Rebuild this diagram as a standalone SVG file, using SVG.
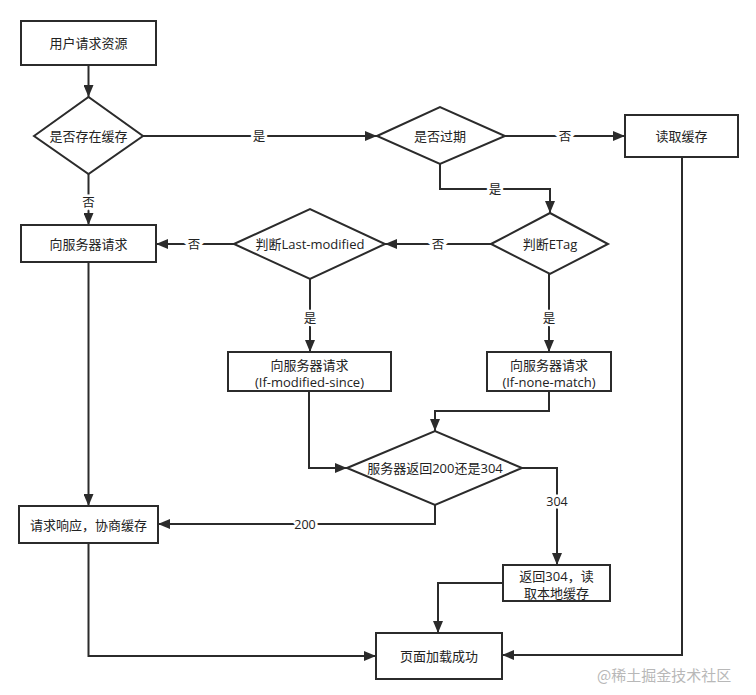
<svg xmlns="http://www.w3.org/2000/svg" width="756" height="695" viewBox="0 0 756 695">
<defs>
<style>
.n{fill:#fff;stroke:#2b2b2b;stroke-width:2}
.t{font-family:"Open Sans","Noto Sans CJK SC",sans-serif;font-size:13px;fill:#222;text-anchor:middle;dominant-baseline:central}
.c{fill:none;stroke:#2b2b2b;stroke-width:2}
.l{font-family:"Open Sans","Noto Sans CJK SC",sans-serif;font-size:12.5px;fill:#222;text-anchor:middle;dominant-baseline:central;stroke:#fff;stroke-width:5;paint-order:stroke}
.w{font-family:"Noto Sans CJK SC",sans-serif;font-size:15px;fill:#b8b8b8}
</style>
<marker id="a" markerUnits="userSpaceOnUse" markerWidth="12" markerHeight="10" refX="12" refY="5" orient="auto">
<path d="M0,0 L12,5 L0,10 z" fill="#2b2b2b"/>
</marker>
</defs>
<rect width="756" height="695" fill="#fff"/>
<g id="connectors">
<path class="c" d="M88.5,65 V97" marker-end="url(#a)"/>
<path class="c" d="M143,136 H377" marker-end="url(#a)"/>
<path class="c" d="M88.5,174 V225" marker-end="url(#a)"/>
<path class="c" d="M505,136 H625" marker-end="url(#a)"/>
<path class="c" d="M440,164 V189 H550 V213" marker-end="url(#a)"/>
<path class="c" d="M491,244 H385" marker-end="url(#a)"/>
<path class="c" d="M234,244 H156" marker-end="url(#a)"/>
<path class="c" d="M310,279 V352" marker-end="url(#a)"/>
<path class="c" d="M549,274 V352" marker-end="url(#a)"/>
<path class="c" d="M549,391 V411 H435 V431" marker-end="url(#a)"/>
<path class="c" d="M309,391 V468 H347" marker-end="url(#a)"/>
<path class="c" d="M522,468 H557 V565" marker-end="url(#a)"/>
<path class="c" d="M435,505 V524 H158" marker-end="url(#a)"/>
<path class="c" d="M88.5,262 V506" marker-end="url(#a)"/>
<path class="c" d="M88.5,543 V656 H376" marker-end="url(#a)"/>
<path class="c" d="M682,157 V655 H502" marker-end="url(#a)"/>
<path class="c" d="M503,583 H438 V633" marker-end="url(#a)"/>
<text class="l" x="259" y="136">是</text>
<text class="l" x="88.5" y="202">否</text>
<text class="l" x="565" y="136">否</text>
<text class="l" x="495" y="189">是</text>
<text class="l" x="438" y="244">否</text>
<text class="l" x="194" y="244">否</text>
<text class="l" x="310" y="318">是</text>
<text class="l" x="549" y="318">是</text>
<text class="l" x="557" y="501">304</text>
<text class="l" x="305" y="524">200</text>
</g>
<g id="start">
<rect class="n" x="21" y="21" width="135" height="44"/>
<text class="t" x="88.5" y="43">用户请求资源</text>
</g>
<g id="hasCache">
<polygon class="n" points="34,136 88.5,97 143,136 88.5,174"/>
<text class="t" x="88.5" y="136">是否存在缓存</text>
</g>
<g id="expired">
<polygon class="n" points="377,136 440,107 505,136 440,164"/>
<text class="t" x="440" y="136">是否过期</text>
</g>
<g id="readCache">
<rect class="n" x="625" y="115" width="113" height="42"/>
<text class="t" x="681.5" y="136">读取缓存</text>
</g>
<g id="request">
<rect class="n" x="21" y="225" width="135" height="37"/>
<text class="t" x="88.5" y="244">向服务器请求</text>
</g>
<g id="lastModified">
<polygon class="n" points="234,244 310,209 385,244 310,279"/>
<text class="t" x="310" y="244">判断Last-modified</text>
</g>
<g id="etag">
<polygon class="n" points="491,244 550,213 608,244 550,274"/>
<text class="t" x="550" y="244">判断ETag</text>
</g>
<g id="reqSince">
<rect class="n" x="228" y="352" width="163" height="39"/>
<text class="t" x="309.5" y="365">向服务器请求</text>
<text class="t" x="309.5" y="382">(If-modified-since)</text>
</g>
<g id="reqNone">
<rect class="n" x="487" y="352" width="124" height="39"/>
<text class="t" x="549" y="365">向服务器请求</text>
<text class="t" x="549" y="382">(If-none-match)</text>
</g>
<g id="serverReturn">
<polygon class="n" points="347,468 435,431 522,468 435,505"/>
<text class="t" x="435" y="468">服务器返回200还是304</text>
</g>
<g id="response">
<rect class="n" x="19" y="506" width="139" height="37"/>
<text class="t" x="88.5" y="525">请求响应，协商缓存</text>
</g>
<g id="return304">
<rect class="n" x="503" y="565" width="107" height="36"/>
<text class="t" x="556.5" y="576">返回304，读</text>
<text class="t" x="556.5" y="593">取本地缓存</text>
</g>
<g id="loaded">
<rect class="n" x="376" y="633" width="126" height="46"/>
<text class="t" x="439" y="656">页面加载成功</text>
</g>
<text class="w" x="597" y="681">@稀土掘金技术社区</text>
</svg>
